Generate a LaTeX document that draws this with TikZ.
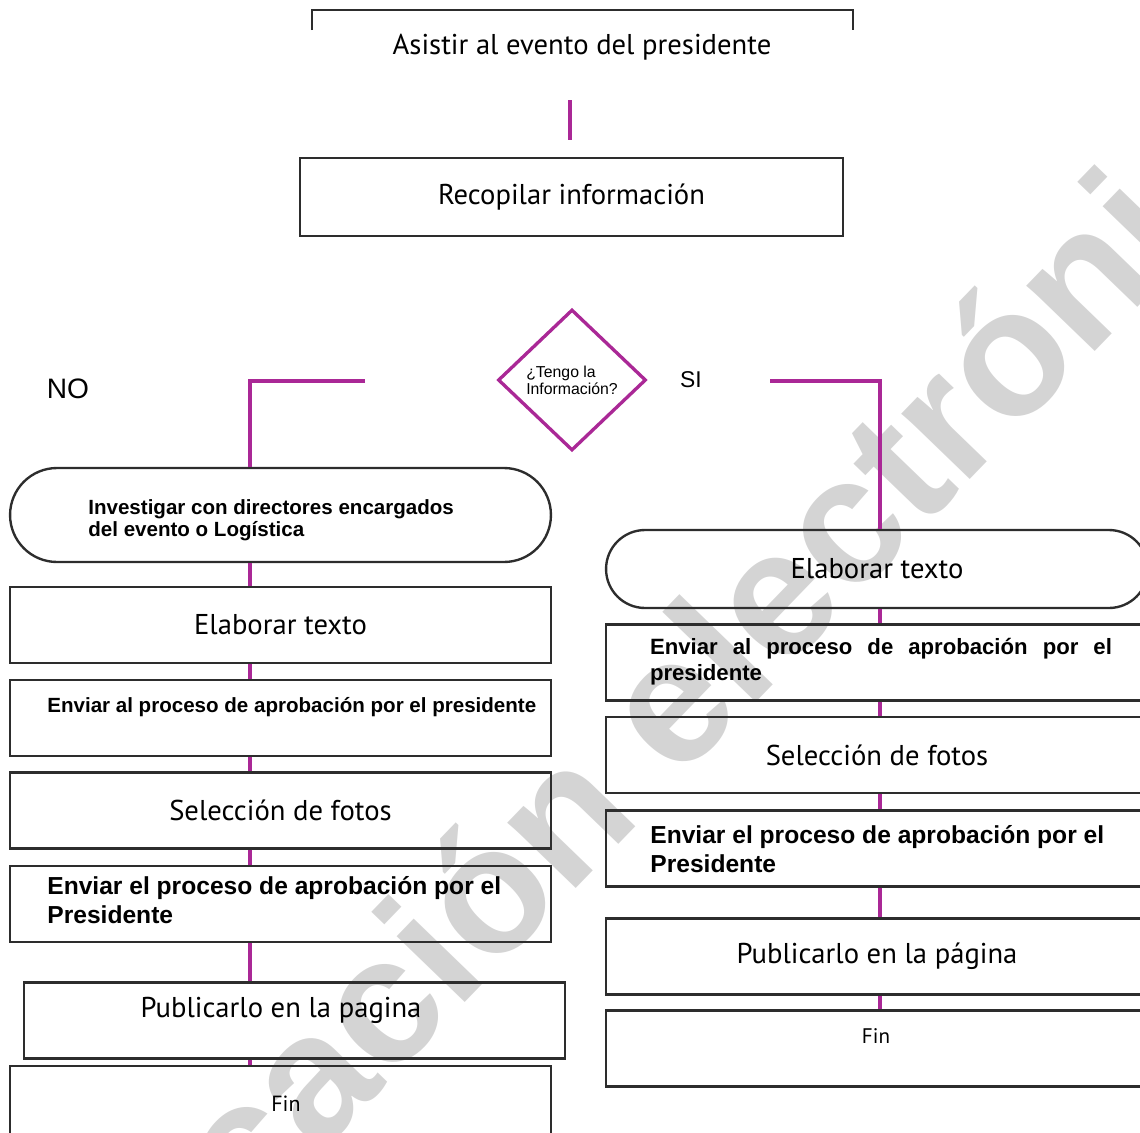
\documentclass[tikz,border=0pt]{standalone}
\usepackage{fontspec}
\setmainfont{PT Sans}
\newfontfamily\arialf{Liberation Sans}
\usetikzlibrary{shapes.geometric}
\usetikzlibrary{shapes.misc}
\definecolor{lila}{RGB}{170,40,150}
\definecolor{borde}{RGB}{45,45,45}
\tikzset{caja/.style={draw=borde, line width=1.35pt, rectangle, inner sep=0pt,
      minimum width=10.82cm, minimum height=1.52cm}}
\tikzset{termino/.style={caja, rounded rectangle}}
\tikzset{decision/.style={draw=lila, line width=1.9pt, diamond, inner sep=0pt,
      minimum width=2.96cm, minimum height=2.82cm, align=left,
      font=\arialf\fontsize{9}{9.5}\selectfont}}
\tikzset{liga/.style={draw=lila, line width=1.9pt}}
\tikzset{myr/.style={font=\fontsize{16.3}{19}\selectfont}}
\tikzset{myrfin/.style={font=\fontsize{12.5}{14}\selectfont}}
\tikzset{negr/.style={font=\arialf\bfseries\fontsize{11.7}{12.5}\selectfont, align=left, inner sep=0pt}}
\tikzset{negrg/.style={font=\arialf\bfseries\fontsize{14}{16.2}\selectfont, align=left, inner sep=0pt}}

\begin{document}
\begin{tikzpicture}[x=0.02cm, y=-0.02cm]
	\path[use as bounding box, clip] (0,0) rectangle (1140,1133);
	\node[rotate=46, anchor=base, text=black!17, font=\arialf\bfseries\fontsize{102}{102}\selectfont] (marca) at (640,822) {Publicación electrónica};
	% inicio
	\draw[borde, line width=1.35pt] (312,30) |- (853,10) -- (853,30);
	\node[myr] (inicio) at (582,47) {Asistir al evento del presidente};
	\coordinate (t1) at (570,100);
	\coordinate (t2) at (570,140);
	\draw[liga] (t1) -- (t2);
	\node[caja, myr, minimum width=10.86cm, minimum height=1.56cm] (recop) at (571.5,197) {Recopilar información};
	\node[decision] (pregunta) at (572,380) {¿Tengo la\\Información?};
	\node[font=\arialf\fontsize{16}{18}\selectfont] (no) at (68,389) {NO};
	\node[font=\arialf\fontsize{13}{15}\selectfont] (si) at (691,380) {SI};
	\coordinate (ejeI) at (250,0);
	\coordinate (ejeD) at (880,0);
	\coordinate (nA) at (365,381);
	\coordinate (sA) at (770,381);
	% rama NO
	\node[termino, minimum height=1.88cm] (nobr) at (280.5,515) {};
	\node[negr, anchor=west] (nobrt) at (88,520) {Investigar con directores encargados\\del evento o Logística};
	\node[caja, myr] (l1) at (280.5,625) {Elaborar texto};
	\node[caja] (l2) at (280.5,718) {};
	\node[negr, anchor=west] (l2t) at (47,707) {Enviar al proceso de aprobación por el presidente};
	\node[caja, myr] (l3) at (280.5,810.5) {Selección de fotos};
	\node[caja] (l4) at (280.5,904) {};
	\node[negrg, anchor=west] (l4t) at (47,900) {Enviar el proceso de aprobación por el\\Presidente};
	\node[caja] (l5) at (294.5,1020.5) {};
	\node[myr] (l5t) at (281,1010) {Publicarlo en la pagina};
	\node[caja, minimum height=1.6cm] (l6) at (280.5,1106) {};
	\node[myrfin] (l6t) at (286,1104) {Fin};
	% rama SI
	\node[termino, myr, minimum width=10.84cm, minimum height=1.56cm] (sibr) at (877,569) {Elaborar texto};
	\node[caja, minimum width=10.84cm] (r1) at (877,662.5) {};
	\node[negr, font=\arialf\bfseries\fontsize{12.6}{14.8}\selectfont, text width=9.24cm, align=justify] (r1t) at (881,662) {Enviar al proceso de aprobación por el \mbox{presidente}};
	\node[caja, myr, minimum width=10.84cm] (r2) at (877,755) {Selección de fotos};
	\node[caja, minimum width=10.84cm] (r3) at (877,848.5) {};
	\node[negrg, anchor=west] (r3t) at (650,849) {Enviar el proceso de aprobación por el\\Presidente};
	\node[caja, myr, minimum width=10.84cm] (r4) at (877,956.5) {Publicarlo en la página};
	\node[caja, minimum width=10.84cm] (r5) at (877,1048.5) {};
	\node[font=\fontsize{12}{14}\selectfont] (r5t) at (876,1036) {Fin};
	% conectores
	\draw[liga] (nA) -| (nobr.north -| ejeI);
	\draw[liga] (sA) -| (sibr.north -| ejeD);
	\foreach \a/\b in {nobr/l1, l1/l2, l2/l3, l3/l4, l4/l5, l5/l6}
		\draw[liga] (\a.south -| ejeI) -- (\b.north -| ejeI);
	\foreach \a/\b in {sibr/r1, r1/r2, r2/r3, r3/r4, r4/r5}
		\draw[liga] (\a.south -| ejeD) -- (\b.north -| ejeD);
\end{tikzpicture}
\end{document}
